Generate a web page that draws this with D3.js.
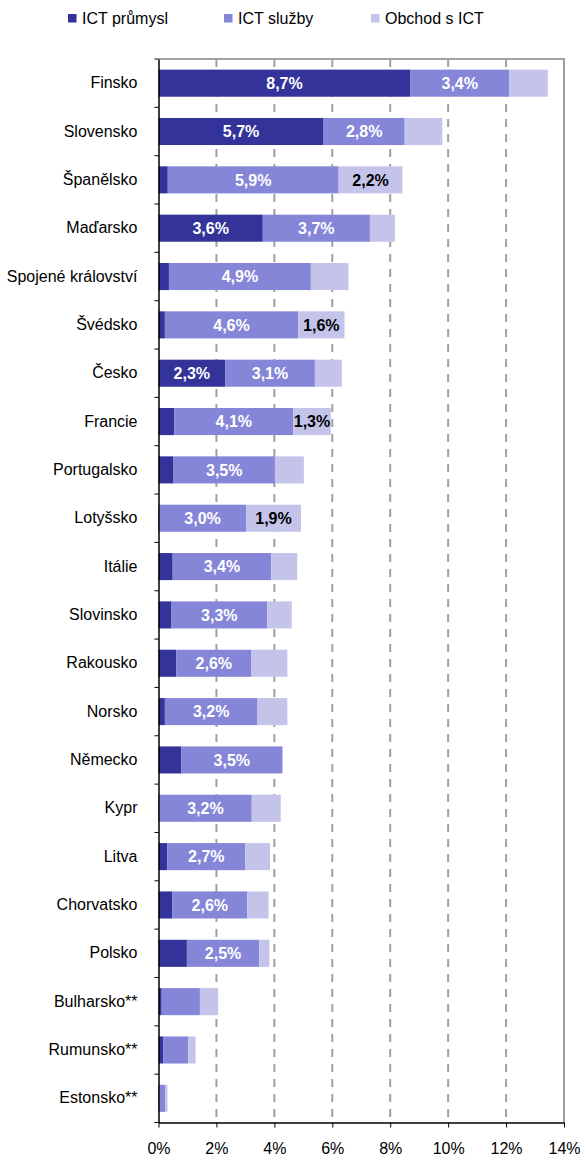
<!DOCTYPE html>
<html lang="cs">

<head>
    <meta charset="UTF-8">
    <script src="https://d3js.org/d3.v7.min.js"></script>
    <title>ICT sektor</title>
    <style>
    body {
        margin: 0;
        background: white;
    }

    text {
        font-family: "Liberation Sans", Arial, sans-serif;
    }
    </style>
</head>

<body>
    <div class="content"></div>
    <script>
    // kategorie (zeme)
    var countries = ["Finsko", "Slovensko", "Španělsko", "Maďarsko", "Spojené království", "Švédsko",
        "Česko", "Francie", "Portugalsko", "Lotyšsko", "Itálie", "Slovinsko", "Rakousko", "Norsko",
        "Německo", "Kypr", "Litva", "Chorvatsko", "Polsko", "Bulharsko**", "Rumunsko**", "Estonsko**"
    ];

    // hodnoty v % (odhad z obrazku tam, kde neni popisek)
    var prumysl = [8.7, 5.7, 0.32, 3.6, 0.36, 0.22, 2.3, 0.55, 0.52, 0.02, 0.49, 0.45, 0.61, 0.22, 0.78, 0.02, 0.30, 0.47, 0.98, 0.11, 0.16, 0.02];
    var sluzby = [3.4, 2.8, 5.9, 3.7, 4.9, 4.6, 3.1, 4.1, 3.5, 3.0, 3.4, 3.3, 2.6, 3.2, 3.5, 3.2, 2.7, 2.6, 2.5, 1.32, 0.87, 0.22];
    var obchod = [1.34, 1.3, 2.2, 0.86, 1.3, 1.6, 0.93, 1.3, 1.0, 1.9, 0.9, 0.85, 1.24, 1.03, 0, 1.0, 0.85, 0.73, 0.35, 0.63, 0.25, 0.07];

    // ktere segmenty maji popisek
    var prumyslLbl = ["Finsko", "Slovensko", "Maďarsko", "Česko"];
    var sluzbyLbl = countries.slice(0, 19);
    var obchodLbl = ["Španělsko", "Švédsko", "Francie", "Lotyšsko"];

    var seriesNames = ["ICT průmysl", "ICT služby", "Obchod s ICT"];
    var xTicks = [0, 2, 4, 6, 8, 10, 12, 14];

    var colors = ["#333399", "#8686d8", "#c4c4ea"];
    var labelColors = ["white", "white", "black"];

    var p = {
        width: 582,
        height: 1160,
        left: 158.5,
        right: 564,
        top: 59,
        bottom: 1122.5
    };

    var svg = d3.select(".content")
        .append("svg")
        .attr("width", p.width)
        .attr("height", p.height);

    var x = d3.scaleLinear().domain([0, 14]).range([p.left, p.right]);
    var y = d3.scaleBand().domain(countries).range([p.top, p.bottom])
        .paddingInner(0.44).paddingOuter(0.22);

    // mrizka - prerusovane cary
    svg.append("g")
        .selectAll("line")
        .data(xTicks.slice(1, -1))
        .join("line")
        .attr("x1", d => x(d))
        .attr("x2", d => x(d))
        .attr("y1", p.top)
        .attr("y2", p.bottom)
        .attr("stroke", "#a0a0a0")
        .attr("stroke-width", 2)
        .attr("stroke-dasharray", "8,7");

    // ramecek nahore a vpravo
    svg.append("path")
        .attr("d", "M" + x(0) + "," + p.top + "H" + x(14) + "V" + p.bottom)
        .attr("fill", "none")
        .attr("stroke", "#a0a0a0")
        .attr("stroke-width", 2);

    // skladani segmentu
    var rows = countries.map(function(c, i) {
        var vals = [prumysl[i], sluzby[i], obchod[i]];
        var lbls = [prumyslLbl.includes(c), sluzbyLbl.includes(c), obchodLbl.includes(c)];
        var x0 = 0;
        return vals.map(function(v, k) {
            var seg = { country: c, k: k, v: v, x0: x0, x1: x0 + v, label: lbls[k] };
            x0 += v;
            return seg;
        });
    });
    var segs = rows.flat();

    svg.append("g")
        .selectAll("rect")
        .data(segs.filter(d => d.v > 0))
        .join("rect")
        .attr("x", d => x(d.x0))
        .attr("y", d => y(d.country))
        .attr("width", d => x(d.x1) - x(d.x0))
        .attr("height", y.bandwidth())
        .attr("fill", d => colors[d.k]);

    svg.append("g")
        .selectAll("text")
        .data(segs.filter(d => d.label))
        .join("text")
        .attr("x", d => (x(d.x0) + x(d.x1)) / 2)
        .attr("y", d => y(d.country) + y.bandwidth() / 2)
        .attr("dy", "0.36em")
        .attr("text-anchor", "middle")
        .attr("font-size", 16)
        .attr("font-weight", "bold")
        .attr("fill", d => labelColors[d.k])
        .text(d => d3.format(".1f")(d.v).replace(".", ",") + "%");

    // osa x
    var xAxis = svg.append("g")
        .attr("transform", "translate(0," + p.bottom + ")")
        .call(d3.axisBottom(x).tickValues(xTicks).tickSize(5).tickSizeOuter(0)
            .tickFormat(d => d + "%"));
    xAxis.select(".domain").attr("stroke", "black").attr("stroke-width", 1.5);
    xAxis.selectAll(".tick line").attr("stroke", "black");
    xAxis.selectAll("text")
        .attr("font-size", 16)
        .attr("fill", "black")
        .attr("y", 26)
        .attr("dy", "0.32em");

    // osa y - popisky zemi
    var yAxis = svg.append("g")
        .attr("transform", "translate(" + p.left + ",0)")
        .call(d3.axisLeft(y).tickSize(0).tickPadding(21));
    yAxis.select(".domain").attr("stroke", "black").attr("stroke-width", 1.5);
    yAxis.selectAll("text")
        .attr("font-size", 16)
        .attr("fill", "black");

    // male carky mezi kategoriemi
    var step = y.step();
    svg.append("g")
        .selectAll("line")
        .data(d3.range(countries.length + 1))
        .join("line")
        .attr("x1", p.left - 4)
        .attr("x2", p.left)
        .attr("y1", i => p.top + i * step)
        .attr("y2", i => p.top + i * step)
        .attr("stroke", "black");

    // legenda
    var legendX = [68, 224, 371];
    var legend = svg.append("g")
        .selectAll("g")
        .data(seriesNames)
        .join("g")
        .attr("transform", (d, i) => "translate(" + legendX[i] + ",14)");
    legend.append("rect")
        .attr("width", 8.5)
        .attr("height", 8.5)
        .attr("fill", (d, i) => colors[i]);
    legend.append("text")
        .attr("x", 14)
        .attr("y", 4.5)
        .attr("dy", "0.36em")
        .attr("font-size", 16)
        .text(d => d);
    </script>
</body>

</html>
